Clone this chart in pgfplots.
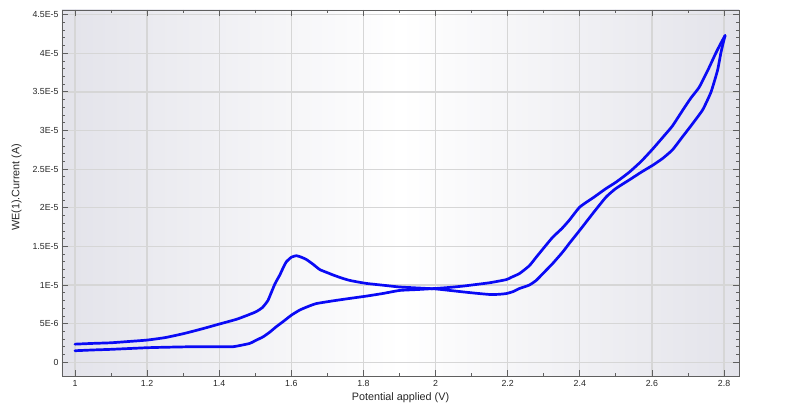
\documentclass[border=0pt]{standalone}
\usepackage{fontspec}
\setmainfont{Liberation Sans}
\usepackage{pgfplots}
\pgfplotsset{compat=1.18}
\definecolor{bgside}{RGB}{227,227,234}
\definecolor{gridc}{RGB}{214,214,214}
\definecolor{framec}{RGB}{95,95,95}
\definecolor{curve}{RGB}{10,10,245}
\begin{document}
\begin{tikzpicture}
\begin{axis}[
  name=ax,
  scale only axis,
  width=677pt, height=366pt,
  xmin=0.964, xmax=2.8415,
  ymin=-1.77, ymax=45.6,
  xtick={1,1.2,...,2.81},
  minor x tick num=1,
  ytick={0,5,...,45},
  yticklabels={0,5E-6,1E-5,1.5E-5,2E-5,2.5E-5,3E-5,3.5E-5,4E-5,4.5E-5},
  minor y tick num=4,
  tick align=inside,
  major tick length=6pt, minor tick length=3pt,
  tick style={framec, line width=0.8pt},
  axis line style={framec, line width=0.9pt},
  grid=major,
  major grid style={gridc, line width=1.3pt},
  axis background/.style={left color=bgside, right color=bgside, middle color=white},
  /pgf/number format/assume math mode=true,
  ticklabel style={font=\fontsize{8.8}{10}\selectfont, text=black!85},
  xticklabel style={yshift=-1pt},
  xlabel={Potential applied (V)},
  ylabel={WE(1).Current (A)},
  label style={font=\fontsize{10.8}{12}\selectfont, text=black!85},
  xlabel style={at={(axis description cs:0.5,-0.06)}, anchor=center},
  ylabel style={at={(axis description cs:-0.067,0.516)}, anchor=center},
]
\addplot[curve, line width=2.7pt, line join=round, line cap=round, smooth, tension=0.3] coordinates {
(1.000,2.35) (1.05,2.45) (1.10,2.53) (1.15,2.70) (1.20,2.88) (1.25,3.20)
(1.30,3.70) (1.35,4.30) (1.40,4.95) (1.45,5.60) (1.50,6.50) (1.52,7.10)
(1.535,8.00) (1.545,9.10) (1.555,10.2) (1.568,11.3) (1.578,12.3) (1.586,13.0)
(1.600,13.6) (1.614,13.8) (1.628,13.6) (1.642,13.3) (1.660,12.7) (1.679,12.0)
(1.700,11.6) (1.716,11.3) (1.740,10.9) (1.762,10.6) (1.790,10.35) (1.810,10.2)
(1.850,10.0) (1.900,9.75) (1.940,9.65) (2.000,9.50) (2.040,9.30) (2.075,9.12)
(2.110,8.95) (2.150,8.78) (2.175,8.80) (2.196,8.90) (2.215,9.15) (2.233,9.56)
(2.260,10.0) (2.279,10.6) (2.300,11.6) (2.325,12.8) (2.353,14.3) (2.371,15.4)
(2.400,17.1) (2.440,19.5) (2.473,21.4) (2.500,22.5) (2.537,23.6) (2.570,24.6)
(2.602,25.5) (2.630,26.4) (2.657,27.5) (2.685,29.2) (2.713,30.9) (2.741,32.7)
(2.764,35.0) (2.782,37.8) (2.791,40.0) (2.797,41.2) (2.803,42.3)
};
\addplot[curve, line width=2.7pt, line join=round, line cap=round, smooth, tension=0.3] coordinates {
(2.803,42.3) (2.790,41.2) (2.777,40.0) (2.755,37.8) (2.731,35.6) (2.708,34.2)
(2.685,32.6) (2.657,30.6) (2.639,29.6) (2.602,27.6) (2.570,26.0) (2.537,24.6)
(2.500,23.3) (2.473,22.5) (2.440,21.4) (2.400,20.1) (2.371,18.4) (2.350,17.3)
(2.325,16.2) (2.300,14.8) (2.279,13.6) (2.260,12.5) (2.233,11.5) (2.210,11.0)
(2.196,10.7) (2.150,10.3) (2.100,10.0) (2.075,9.86) (2.040,9.70) (2.000,9.56)
(1.950,9.42) (1.900,9.30) (1.854,8.91) (1.808,8.57) (1.762,8.27) (1.716,7.96)
(1.669,7.60) (1.645,7.20) (1.623,6.76) (1.600,6.10) (1.578,5.30) (1.558,4.60)
(1.540,3.90) (1.522,3.31) (1.500,2.80) (1.485,2.45) (1.460,2.20) (1.438,2.02)
(1.400,2.02) (1.328,2.02) (1.250,1.95) (1.200,1.89) (1.100,1.68) (1.050,1.60)
(1.000,1.50)
};
\end{axis}
\pgfresetboundingbox
\path ([xshift=-62pt,yshift=-38pt]ax.south west) rectangle ([xshift=61pt,yshift=10pt]ax.north east);
\end{tikzpicture}
\end{document}
